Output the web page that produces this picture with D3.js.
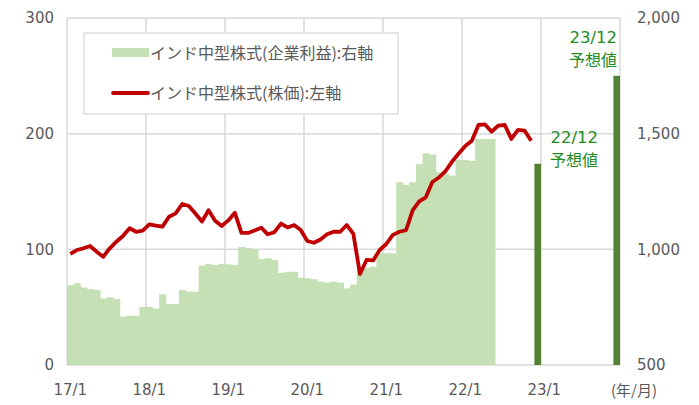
<!DOCTYPE html>
<html>
<head>
<meta charset="utf-8">
<script src="https://cdn.jsdelivr.net/npm/d3@7"></script>
<style>
  body { margin: 0; background: #fff; }
  svg text { font-family: "DejaVu Sans", "Noto Sans CJK JP", sans-serif; }
  .jp { font-family: "Noto Sans CJK JP", sans-serif; }
</style>
</head>
<body>
<div id="chartArea"></div>
<script>
// 月次カテゴリ 17/1 .. 23/12
var years = [17, 18, 19, 20, 21, 22, 23];
var months = [];
years.forEach(function(y) { for (var m = 1; m <= 12; m++) months.push(y + "/" + m); });

var xTicks = ["17/1", "18/1", "19/1", "20/1", "21/1", "22/1", "23/1"];
var leftTicks = [0, 100, 200, 300];
var rightTicks = [500, 1000, 1500, 2000];

// インド中型株式(企業利益) 右軸, 17/1 - 22/5
var earnings = [845, 853, 835, 828, 824, 788, 793, 785, 709, 713, 713, 751,
                751, 744, 806, 764, 764, 824, 817, 817, 930, 937, 932, 937,
                935, 932, 1010, 1005, 1002, 958, 961, 954, 898, 903, 903, 878,
                875, 871, 860, 856, 860, 856, 831, 848, 914, 920, 925, 983,
                983, 983, 1290, 1278, 1290, 1368, 1415, 1410, 1333, 1326, 1319, 1386,
                1386, 1382, 1477, 1477, 1477];

// 予想値
var forecastMonths = ["22/12", "23/12"];
var forecastValues = [1370, 1750];
var forecastLabels = ["22/12", "23/12"];

// インド中型株式(株価) 左軸, 17/1 - 22/11
var price = [96, 99.4, 100.9, 102.9, 98, 93.6, 100.9, 106.6, 111.5, 118.2, 115.2, 116.1,
             121.6, 120.6, 119.6, 128.2, 131.1, 139.2, 137.5, 131, 124, 133.8, 124.8, 120.2,
             125, 131.6, 114.3, 114.2, 116.3, 118.7, 113, 114.8, 122.3, 118.9, 121, 116.7,
             107.2, 105.7, 108.5, 113, 115.2, 115.2, 121, 113.3, 78.7, 90.8, 90.4, 99.4,
             104.6, 112.5, 115.2, 116.5, 133.6, 141.4, 145, 158.2, 162.1, 167.7, 175.9, 182.8,
             189.3, 193.9, 207.5, 208, 201.7, 207, 207.5, 195.4, 203.2, 202.7, 193.9];

var width = 699, height = 405;
var margin = {top: 18, right: 79, bottom: 40, left: 67};

var svg = d3.select('#chartArea').append('svg')
    .attr('width', width)
    .attr('height', height);

var xscale = d3.scaleBand().domain(months)
    .range([margin.left, width - margin.right]).padding(0);
var yLeft = d3.scaleLinear().domain([0, 300]).range([height - margin.bottom, margin.top]);
var yRight = d3.scaleLinear().domain([500, 2000]).range([height - margin.bottom, margin.top]);

var gridColor = '#d9d9d9', textColor = '#595959';

// grid
svg.append('g').selectAll('line').data(leftTicks).enter().append('line')
    .attr('x1', margin.left).attr('x2', width - margin.right)
    .attr('y1', function(d) { return yLeft(d); })
    .attr('y2', function(d) { return yLeft(d); })
    .attr('stroke', gridColor).attr('stroke-width', 1.5);
var vlines = xTicks.map(function(t) { return xscale(t); }).concat([width - margin.right]);
svg.append('g').selectAll('line').data(vlines).enter().append('line')
    .attr('x1', function(d) { return d; }).attr('x2', function(d) { return d; })
    .attr('y1', margin.top).attr('y2', height - margin.bottom)
    .attr('stroke', gridColor).attr('stroke-width', 1.5);

// earnings bars
svg.append('g').selectAll('rect').data(earnings).enter().append('rect')
    .attr('x', function(d, i) { return xscale(months[i]); })
    .attr('y', function(d) { return yRight(d); })
    .attr('width', xscale.bandwidth() + 0.6)
    .attr('height', function(d) { return yRight(500) - yRight(d); })
    .attr('fill', '#c5e0b4');

// forecast bars
svg.append('g').selectAll('rect').data(forecastValues).enter().append('rect')
    .attr('x', function(d, i) { return xscale(forecastMonths[i]); })
    .attr('y', function(d) { return yRight(d); })
    .attr('width', xscale.bandwidth())
    .attr('height', function(d) { return yRight(500) - yRight(d); })
    .attr('fill', '#548235');

// price line
var line = d3.line()
    .x(function(d, i) { return xscale(months[i]) + xscale.bandwidth() / 2; })
    .y(function(d) { return yLeft(d); });
svg.append('path').datum(price)
    .attr('d', line)
    .attr('fill', 'none')
    .attr('stroke', '#c00000')
    .attr('stroke-width', 3.8)
    .attr('stroke-linejoin', 'round');

// axes
svg.append('g').selectAll('text').data(leftTicks).enter().append('text')
    .attr('x', 54).attr('y', function(d) { return yLeft(d); })
    .attr('dy', '0.35em').attr('text-anchor', 'end')
    .style('font-size', '15px').attr('fill', textColor)
    .text(function(d) { return d; });
svg.append('g').selectAll('text').data(rightTicks).enter().append('text')
    .attr('x', 637).attr('y', function(d) { return yRight(d); })
    .attr('dy', '0.35em').attr('text-anchor', 'start')
    .style('font-size', '15px').attr('fill', textColor)
    .text(function(d) { return d3.format(',')(d); });
svg.append('g').selectAll('text').data(xTicks).enter().append('text')
    .attr('x', function(d) { return xscale(d) + xscale.bandwidth() / 2; })
    .attr('y', 395).attr('text-anchor', 'middle')
    .style('font-size', '15px').attr('fill', textColor)
    .text(function(d) { return d; });
svg.append('text').attr('class', 'jp')
    .attr('x', 634).attr('y', 396).attr('text-anchor', 'middle')
    .style('font-size', '15px').attr('fill', textColor)
    .text('(年/月)');

// forecast labels (2 lines each)
var labelPos = [{x: 598, y: 143}, {x: 617, y: 43}];
forecastLabels.forEach(function(lab, i) {
    svg.append('text').attr('text-anchor', 'end')
        .attr('x', labelPos[i].x).attr('y', labelPos[i].y)
        .attr('fill', '#228b22').style('font-size', '16.5px')
        .text(lab);
    svg.append('text').attr('class', 'jp').attr('text-anchor', 'end')
        .attr('x', labelPos[i].x).attr('y', labelPos[i].y + 23)
        .attr('fill', '#228b22').style('font-size', '16px')
        .text('予想値');
});

// legend
var legend = svg.append('g');
legend.append('rect').attr('x', 84).attr('y', 33).attr('width', 314).attr('height', 81)
    .attr('fill', '#fff').attr('stroke', gridColor).attr('stroke-width', 1.3);
legend.append('rect').attr('x', 112).attr('y', 48).attr('width', 37).attr('height', 9)
    .attr('fill', '#c5e0b4');
legend.append('line').attr('x1', 113).attr('x2', 148).attr('y1', 93).attr('y2', 93)
    .attr('stroke', '#c00000').attr('stroke-width', 3.8).attr('stroke-linecap', 'round');
legend.append('text').attr('class', 'jp').attr('x', 150).attr('y', 53).attr('dy', '0.35em')
    .style('font-size', '16px').attr('fill', textColor)
    .text('インド中型株式(企業利益):右軸');
legend.append('text').attr('class', 'jp').attr('x', 150).attr('y', 93).attr('dy', '0.35em')
    .style('font-size', '16px').attr('fill', textColor)
    .text('インド中型株式(株価):左軸');
</script>
</body>
</html>
